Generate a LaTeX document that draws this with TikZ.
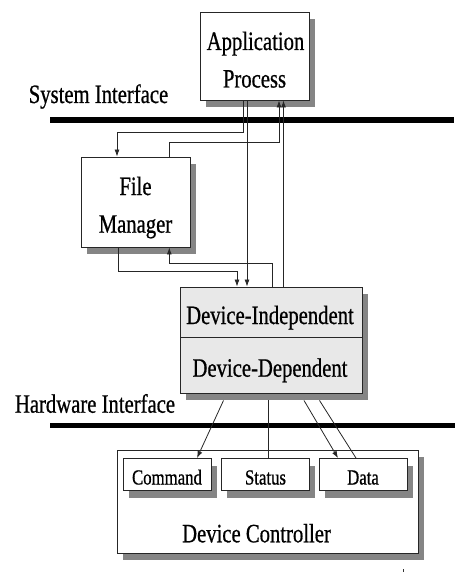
\documentclass[tikz,border=0pt]{standalone}
\usepackage{fontspec}
\setmainfont{Liberation Serif}[RawFeature={embolden=0.8}]
\usetikzlibrary{arrows.meta,shadows}
\newcommand{\sqz}[1]{\scalebox{0.78}[1]{#1}}
\tikzset{
  boxnode/.style={draw=black!85, line width=0.9pt, fill=white, rectangle, inner sep=0pt,
    drop shadow={shadow xshift=6pt, shadow yshift=-7pt, fill=black!48, opacity=1}},
  graybox/.style={boxnode, fill=black!9},
  bigtext/.style={anchor=base, inner sep=0pt, font=\fontsize{26.5}{30}\selectfont},
  smalltext/.style={anchor=base, inner sep=0pt, font=\fontsize{21.5}{25}\selectfont},
  conn/.style={draw=black!85, line width=0.8pt},
  arr/.style={conn, -{Latex[length=7pt,width=5pt]}},
  bus/.style={line width=6pt, black}
}
\begin{document}
\begin{tikzpicture}[x=1pt,y=-1pt]
\useasboundingbox (0,0) rectangle (469,572);
% boxes
\node[boxnode, minimum width=109pt, minimum height=88pt] (ap) at (254.5,56) {};
\node[boxnode, minimum width=109pt, minimum height=90pt] (fm) at (135.5,202) {};
\node[graybox, minimum width=182pt, minimum height=50pt] (di) at (271,312) {};
\node[graybox, minimum width=182pt, minimum height=56pt] (dd) at (271,365) {};
\node[boxnode, minimum width=301pt, minimum height=103pt] (dc) at (267.5,501.5) {};
\node[boxnode, minimum width=88pt, minimum height=32pt] (cmd) at (167,474.5) {};
\node[boxnode, minimum width=88pt, minimum height=32pt] (st) at (265,474.5) {};
\node[boxnode, minimum width=88pt, minimum height=32pt] (dat) at (363,474.5) {};
% texts
\node[bigtext] (apA) at (255.5,50) {\sqz{Application}};
\node[bigtext] (apB) at (254.5,87.5) {\sqz{Process}};
\node[bigtext] (fmA) at (135.5,195) {\sqz{File}};
\node[bigtext] (fmB) at (135.5,232.7) {\sqz{Manager}};
\node[bigtext] (sys) at (98.5,103) {\sqz{System Interface}};
\node[bigtext] (hw) at (95,412.7) {\sqz{Hardware Interface}};
\node[bigtext] (diT) at (270,324) {\sqz{Device-Independent}};
\node[bigtext] (ddT) at (270,376.7) {\sqz{Device-Dependent}};
\node[smalltext] (cmdT) at (167,484.5) {\sqz{Command}};
\node[smalltext] (stT) at (265.5,484.5) {\sqz{Status}};
\node[smalltext] (datT) at (363,484.5) {\sqz{Data}};
\node[bigtext] (dcT) at (256.5,542.3) {\sqz{Device Controller}};
% buses
\coordinate (sysL) at (50,120.5);
\coordinate (sysR) at (454,120.5);
\coordinate (hwL) at (50,425);
\coordinate (hwR) at (455,425);
\draw[bus] (sysL) -- (sysR);
\draw[bus, line width=5pt] (hwL) -- (hwR);
% connectors
\draw[arr] ([xshift=-11.5pt]ap.south) |- ([xshift=-18.5pt,yshift=24pt]fm.north) -- ([xshift=-18.5pt]fm.north);
\draw[arr] ([xshift=-7.5pt]ap.south) -- ([xshift=-24pt]di.north);
\draw[arr] ([xshift=33.8pt]fm.north) |- ([xshift=24.5pt,yshift=-41.7pt]ap.south) -- ([xshift=24.5pt]ap.south);
\draw[arr] ([xshift=12.5pt]di.north) -- ([xshift=29pt]ap.south);
\draw[arr] ([xshift=-17.5pt]fm.south) |- ([xshift=-34pt,yshift=15.3pt]di.north) -- ([xshift=-34pt]di.north);
\draw[arr] ([xshift=1.7pt]di.north) |- ([xshift=33.8pt,yshift=-16.3pt]fm.south) -- ([xshift=33.8pt]fm.south);
\draw[arr] ([xshift=-47.5pt,yshift=-7pt]dd.south) -- ([xshift=30pt]cmd.north);
\draw[conn] ([xshift=-3pt,yshift=-7pt]dd.south) -- ([xshift=3pt]st.north);
\draw[arr] ([xshift=33pt,yshift=-7pt]dd.south) -- ([xshift=-25pt]dat.north);
\draw[conn] ([xshift=48.5pt,yshift=-7pt]dd.south) -- ([xshift=-7pt]dat.north);
% tiny mark
\fill[black!80] (402.5,568.5) rectangle (403.7,572);
\end{tikzpicture}
\end{document}
